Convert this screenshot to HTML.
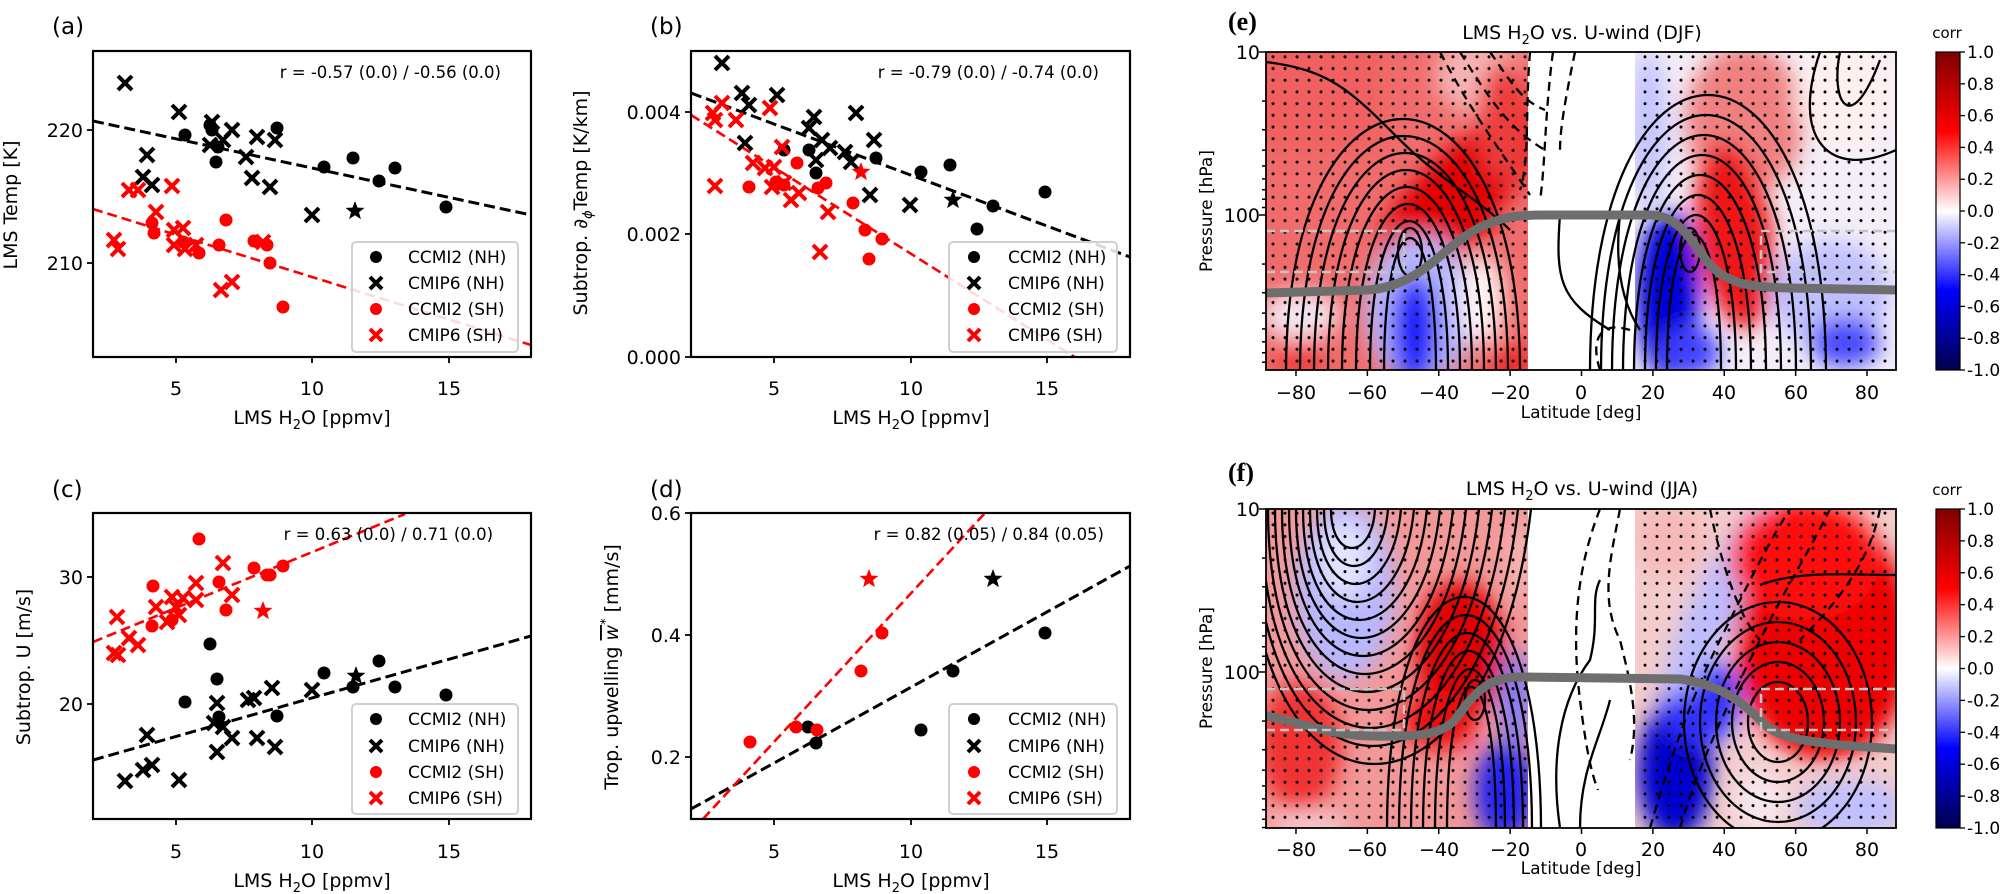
<!DOCTYPE html>
<html><head><meta charset="utf-8"><style>
html,body{margin:0;padding:0;background:#fff}
svg{display:block;font-family:"DejaVu Sans","Liberation Sans",sans-serif}
</style></head><body>
<svg id="s" width="2000" height="894" viewBox="0 0 2000 894" xmlns="http://www.w3.org/2000/svg">
<defs>
<filter id="bl" x="-50%" y="-50%" width="200%" height="200%"><feGaussianBlur stdDeviation="11"/></filter>
<pattern id="dots" x="1267" y="4" width="12" height="11.7" patternUnits="userSpaceOnUse"><circle cx="6" cy="6" r="1.5" fill="#000"/></pattern>
<clipPath id="ca"><rect x="93" y="51" width="438" height="306"/></clipPath>
<clipPath id="cb"><rect x="691" y="51" width="439" height="306"/></clipPath>
<clipPath id="cc"><rect x="93" y="513" width="438" height="306"/></clipPath>
<clipPath id="cd"><rect x="691" y="513" width="439" height="306"/></clipPath>
<clipPath id="ceL"><rect x="1266" y="52" width="262" height="318"/></clipPath>
<clipPath id="ceR"><rect x="1635" y="52" width="261" height="318"/></clipPath>
<clipPath id="cfL"><rect x="1266" y="509" width="262" height="319"/></clipPath>
<clipPath id="cfR"><rect x="1635" y="509" width="261" height="319"/></clipPath>
<clipPath id="ce"><rect x="1266" y="52" width="630" height="318"/></clipPath>
<clipPath id="cf"><rect x="1266" y="509" width="630" height="319"/></clipPath>
<linearGradient id="cbar" x1="0" y1="0" x2="0" y2="1">
<stop offset="0" stop-color="#800000"/><stop offset="0.25" stop-color="#ff0000"/><stop offset="0.5" stop-color="#ffffff"/><stop offset="0.75" stop-color="#0000ff"/><stop offset="1" stop-color="#00004d"/>
</linearGradient>
</defs>

<!-- ===== fields e ===== -->
<g clip-path="url(#ceL)"><rect x="1266" y="52" width="262" height="318" fill="#f06c6c"/>
<g filter="url(#bl)">
<rect x="1230" y="30" width="150" height="120" fill="#f06060"/>
<ellipse cx="1480" cy="75" rx="45" ry="40" fill="#f6b4b4"/>
<ellipse cx="1465" cy="185" rx="110" ry="38" transform="rotate(-42 1465 185)" fill="#e00000"/>
<ellipse cx="1445" cy="215" rx="50" ry="40" fill="#e40000"/>
<ellipse cx="1505" cy="120" rx="28" ry="60" fill="#ee3c3c"/>
<ellipse cx="1420" cy="310" rx="55" ry="75" fill="#b8b8ff"/>
<ellipse cx="1415" cy="330" rx="24" ry="55" fill="#1a1aff"/>
<ellipse cx="1482" cy="300" rx="22" ry="45" fill="#fff4f4"/>
<ellipse cx="1300" cy="315" rx="40" ry="25" fill="#f4e4ee"/>
<ellipse cx="1300" cy="358" rx="25" ry="15" fill="#f03030"/>
<ellipse cx="1510" cy="362" rx="22" ry="18" fill="#f02020"/>
</g></g>
<g clip-path="url(#ceR)"><rect x="1635" y="52" width="261" height="318" fill="#f4eef8"/>
<g filter="url(#bl)">
<ellipse cx="1648" cy="130" rx="20" ry="80" fill="#c4c4ff"/>
<ellipse cx="1745" cy="120" rx="60" ry="75" fill="#f08080"/>
<ellipse cx="1735" cy="235" rx="38" ry="95" transform="rotate(-8 1735 235)" fill="#ee1818"/>
<ellipse cx="1668" cy="295" rx="32" ry="85" fill="#0000dc"/>
<ellipse cx="1690" cy="352" rx="30" ry="25" fill="#4040ff"/>
<ellipse cx="1845" cy="95" rx="50" ry="55" fill="#fff0f0"/>
<ellipse cx="1830" cy="295" rx="60" ry="55" fill="#c0c0ff"/>
<ellipse cx="1845" cy="342" rx="35" ry="25" fill="#4a4aff"/>
</g></g>
<rect x="1266" y="52" width="262" height="318" fill="url(#dots)"/>
<rect x="1635" y="52" width="261" height="318" fill="url(#dots)"/>

<!-- ===== fields f ===== -->
<g clip-path="url(#cfL)"><rect x="1266" y="509" width="262" height="319" fill="#f29898"/>
<g filter="url(#bl)">
<ellipse cx="1345" cy="590" rx="50" ry="90" fill="#b8b8ff"/>
<ellipse cx="1345" cy="560" rx="25" ry="40" fill="#e4e4ff"/>
<ellipse cx="1460" cy="650" rx="45" ry="70" fill="#e00000"/>
<ellipse cx="1440" cy="720" rx="38" ry="30" fill="#ee1010"/>
<ellipse cx="1505" cy="792" rx="30" ry="50" fill="#2020f0"/>
<ellipse cx="1515" cy="700" rx="15" ry="50" fill="#7878ff"/>
<ellipse cx="1300" cy="745" rx="42" ry="65" fill="#f03030"/>
<ellipse cx="1310" cy="826" rx="40" ry="12" fill="#f8d0d8"/>
<ellipse cx="1520" cy="560" rx="12" ry="40" fill="#f6b8b8"/>
</g></g>
<g clip-path="url(#cfR)"><rect x="1635" y="509" width="261" height="319" fill="#f4cccc"/>
<g filter="url(#bl)">
<ellipse cx="1675" cy="772" rx="38" ry="68" fill="#0000cc"/>
<ellipse cx="1700" cy="700" rx="40" ry="45" fill="#3030ff"/>
<ellipse cx="1720" cy="600" rx="25" ry="110" transform="rotate(28 1720 600)" fill="#bcbcff"/>
<ellipse cx="1825" cy="640" rx="90" ry="120" fill="#ee0000"/>
<ellipse cx="1805" cy="560" rx="75" ry="60" fill="#ff1010"/>
<ellipse cx="1670" cy="540" rx="35" ry="35" fill="#f6b8b8"/>
<ellipse cx="1850" cy="808" rx="55" ry="28" fill="#c0c0ff"/>
<ellipse cx="1760" cy="802" rx="25" ry="30" fill="#f8e8f0"/>
</g></g>
<rect x="1266" y="509" width="262" height="319" fill="url(#dots)"/>
<rect x="1635" y="509" width="261" height="319" fill="url(#dots)"/>

<g id="contours" fill="none" stroke="#000" stroke-width="2.3"></g>

<!-- tropopause + boxes -->
<g fill="none" stroke="#6e6e6e" stroke-width="9">
<path d="M1266,293 L1368,290 C1420,286 1440,250 1475,230 C1500,216 1520,215 1545,215 L1650,215 C1680,216 1690,240 1710,265 C1730,285 1752,287 1790,288 L1896,290"/>
<path d="M1266,716 C1300,722 1330,735 1370,736 C1420,737 1440,735 1455,720 C1475,692 1488,677 1520,677 L1680,679 C1720,685 1740,700 1760,720 C1776,738 1800,740 1840,745 L1896,749"/>
</g>
<g fill="none" stroke="#c4c4c4" stroke-width="2.5" stroke-dasharray="9 5">
<path d="M1266,231 L1404,231 L1404,272 L1266,272"/>
<path d="M1896,231 L1761,231 L1761,272 L1896,272"/>
<path d="M1266,689 L1404,689 L1404,730 L1266,730"/>
<path d="M1896,689 L1761,689 L1761,730 L1896,730"/>
</g>

<rect x="1266" y="52" width="630" height="318" fill="none" stroke="#000" stroke-width="1.8"/>
<rect x="1266" y="509" width="630" height="319" fill="none" stroke="#000" stroke-width="1.8"/>
<g id="mapticks" stroke="#000" stroke-width="1.5"></g>
<g font-size="19" text-anchor="middle">
<text x="1296" y="399">−80</text><text x="1367" y="399">−60</text><text x="1439" y="399">−40</text><text x="1510" y="399">−20</text><text x="1581" y="399">0</text><text x="1653" y="399">20</text><text x="1724" y="399">40</text><text x="1796" y="399">60</text><text x="1867" y="399">80</text>
<text x="1296" y="856">−80</text><text x="1367" y="856">−60</text><text x="1439" y="856">−40</text><text x="1510" y="856">−20</text><text x="1581" y="856">0</text><text x="1653" y="856">20</text><text x="1724" y="856">40</text><text x="1796" y="856">60</text><text x="1867" y="856">80</text>
</g>
<g font-size="17" text-anchor="middle">
<text x="1581" y="418">Latitude [deg]</text>
<text x="1581" y="874">Latitude [deg]</text>
</g>
<g font-size="19" text-anchor="end">
<text x="1260" y="59">10</text><text x="1260" y="222">100</text>
<text x="1260" y="516">10</text><text x="1260" y="679">100</text>
</g>
<text font-size="17" text-anchor="middle" transform="translate(1212,211) rotate(-90)">Pressure [hPa]</text>
<text font-size="17" text-anchor="middle" transform="translate(1212,668) rotate(-90)">Pressure [hPa]</text>
<g font-size="19" text-anchor="middle">
<text x="1582" y="39">LMS H<tspan font-size="13" dy="5">2</tspan><tspan dy="-5">O vs. U-wind (DJF)</tspan></text>
<text x="1582" y="495">LMS H<tspan font-size="13" dy="5">2</tspan><tspan dy="-5">O vs. U-wind (JJA)</tspan></text>
</g>
<g font-family="'Liberation Serif',serif" font-weight="bold" font-size="26">
<text x="1228" y="30">(e)</text><text x="1228" y="481">(f)</text>
</g>
<rect x="1936" y="52" width="24" height="318" fill="url(#cbar)" stroke="#000" stroke-width="1.2"/>
<rect x="1936" y="509" width="24" height="319" fill="url(#cbar)" stroke="#000" stroke-width="1.2"/>
<g font-size="15" text-anchor="middle"><text x="1947" y="38">corr</text><text x="1947" y="495">corr</text></g>
<g id="cbt" font-size="17"></g>

<g id="scat"></g>

<g fill="none" stroke="#000" stroke-width="2.2">
<rect x="93" y="51" width="438" height="306"/>
<rect x="691" y="51" width="439" height="306"/>
<rect x="93" y="513" width="438" height="306"/>
<rect x="691" y="513" width="439" height="306"/>
</g>
<g stroke="#000" stroke-width="1.8">
<line x1="176" y1="357" x2="176" y2="363"/><line x1="312" y1="357" x2="312" y2="363"/><line x1="449" y1="357" x2="449" y2="363"/>
<line x1="774" y1="357" x2="774" y2="363"/><line x1="911" y1="357" x2="911" y2="363"/><line x1="1047" y1="357" x2="1047" y2="363"/>
<line x1="176" y1="819" x2="176" y2="825"/><line x1="312" y1="819" x2="312" y2="825"/><line x1="449" y1="819" x2="449" y2="825"/>
<line x1="774" y1="819" x2="774" y2="825"/><line x1="911" y1="819" x2="911" y2="825"/><line x1="1047" y1="819" x2="1047" y2="825"/>
<line x1="87" y1="130" x2="93" y2="130"/><line x1="87" y1="263" x2="93" y2="263"/>
<line x1="685" y1="112" x2="691" y2="112"/><line x1="685" y1="234" x2="691" y2="234"/><line x1="685" y1="357" x2="691" y2="357"/>
<line x1="87" y1="577" x2="93" y2="577"/><line x1="87" y1="704" x2="93" y2="704"/>
<line x1="685" y1="513" x2="691" y2="513"/><line x1="685" y1="635" x2="691" y2="635"/><line x1="685" y1="757" x2="691" y2="757"/>
</g>
<g font-size="19" text-anchor="middle">
<text x="176" y="395">5</text><text x="312" y="395">10</text><text x="449" y="395">15</text>
<text x="774" y="395">5</text><text x="911" y="395">10</text><text x="1047" y="395">15</text>
<text x="176" y="858">5</text><text x="312" y="858">10</text><text x="449" y="858">15</text>
<text x="774" y="858">5</text><text x="911" y="858">10</text><text x="1047" y="858">15</text>
</g>
<g font-size="19" text-anchor="end">
<text x="83" y="137">220</text><text x="83" y="270">210</text>
<text x="681" y="119">0.004</text><text x="681" y="241">0.002</text><text x="681" y="364">0.000</text>
<text x="83" y="584">30</text><text x="83" y="711">20</text>
<text x="681" y="520">0.6</text><text x="681" y="642">0.4</text><text x="681" y="764">0.2</text>
</g>
<g font-size="19" text-anchor="middle">
<text x="312" y="424">LMS H<tspan font-size="13" dy="5">2</tspan><tspan dy="-5">O [ppmv]</tspan></text>
<text x="911" y="424">LMS H<tspan font-size="13" dy="5">2</tspan><tspan dy="-5">O [ppmv]</tspan></text>
<text x="312" y="887">LMS H<tspan font-size="13" dy="5">2</tspan><tspan dy="-5">O [ppmv]</tspan></text>
<text x="911" y="887">LMS H<tspan font-size="13" dy="5">2</tspan><tspan dy="-5">O [ppmv]</tspan></text>
<text transform="translate(17,205) rotate(-90)">LMS Temp [K]</text>
<text transform="translate(587,203) rotate(-90)">Subtrop. ∂<tspan font-size="13" dy="5" font-style="italic">ϕ</tspan><tspan dy="-5">Temp [K/km]</tspan></text>
<text transform="translate(30,667) rotate(-90)">Subtrop. U [m/s]</text>
<text transform="translate(618,667) rotate(-90)">Trop. upwelling <tspan font-style="italic" text-decoration="overline">w</tspan><tspan font-size="13" dy="-8">*</tspan><tspan dy="8"> [mm/s]</tspan></text>
</g>
<g font-size="23">
<text x="52" y="34">(a)</text><text x="650" y="34">(b)</text>
<text x="52" y="497">(c)</text><text x="650" y="497">(d)</text>
</g>
<g font-size="16.5" text-anchor="end">
<text x="501" y="78">r = -0.57 (0.0) / -0.56 (0.0)</text>
<text x="1099" y="78">r = -0.79 (0.0) / -0.74 (0.0)</text>
<text x="493" y="540">r = 0.63 (0.0) / 0.71 (0.0)</text>
<text x="1104" y="540">r = 0.82 (0.05) / 0.84 (0.05)</text>
</g>
<g id="legs"></g>
</svg>
<script>
var NS="http://www.w3.org/2000/svg";
function el(p,t,a){var e=document.createElementNS(NS,t);for(var k in a)e.setAttribute(k,a[k]);p.appendChild(e);return e;}
var S=document.getElementById('scat');
function circ(g,x,y,c,r){el(g,'circle',{cx:x,cy:y,r:r||6.5,fill:c});}
function cross(g,x,y,c,s){s=s||7;el(g,'path',{d:'M'+(x-s)+','+(y-s)+'L'+(x+s)+','+(y+s)+'M'+(x-s)+','+(y+s)+'L'+(x+s)+','+(y-s),stroke:c,'stroke-width':4,fill:'none'});}
function star(g,x,y,c){var R=10,r=4.2,d='';for(var i=0;i<10;i++){var a=-Math.PI/2+i*Math.PI/5,rr=i%2?r:R;d+=(i?'L':'M')+(x+rr*Math.cos(a)).toFixed(1)+','+(y+rr*Math.sin(a)).toFixed(1);}el(g,'path',{d:d+'Z',fill:c});}
function line(g,x1,y1,x2,y2,c,w,da){el(g,'line',{x1:x1,y1:y1,x2:x2,y2:y2,stroke:c,'stroke-width':w,'stroke-dasharray':da});}
function panel(clip,d){var g=el(S,'g',{'clip-path':'url(#'+clip+')'});
 d.lines.forEach(function(l){line(g,l[0],l[1],l[2],l[3],l[4],l[4]=='red'?2.6:3,l[4]=='red'?'10 5':'11 5');});
 d.bc.forEach(function(p){circ(g,p[0],p[1],'#000');});
 d.bx.forEach(function(p){cross(g,p[0],p[1],'#000');});
 d.rc.forEach(function(p){circ(g,p[0],p[1],'#f00');});
 d.rx.forEach(function(p){cross(g,p[0],p[1],'#f00');});
 if(d.bs)star(g,d.bs[0],d.bs[1],'#000');if(d.rs)star(g,d.rs[0],d.rs[1],'#f00');}
panel('ca',{lines:[[93,121,531,215,'#000'],[93,209,531,345,'red']],
bc:[[185,135],[210,125],[216,162],[218,147],[277,128],[324,167],[353,158],[379,181],[395,168],[446,207],[212,130]],
bx:[[125,83],[179,112],[147,155],[143,177],[152,185],[212,122],[232,130],[210,145],[223,140],[246,157],[257,137],[252,178],[275,140],[270,187],[312,215]],
rc:[[152,223],[154,233],[226,220],[219,245],[254,241],[267,245],[270,263],[283,307],[199,253],[183,242]],
rx:[[114,240],[118,249],[129,190],[138,190],[172,186],[156,212],[174,230],[183,228],[174,245],[185,249],[196,245],[221,290],[232,282],[263,242]],bs:[355,211]});
panel('cb',{lines:[[691,93,1130,257,'#000'],[691,115,1130,392,'red']],
bc:[[784,150],[809,150],[816,173],[876,158],[921,172],[950,165],[977,229],[993,206],[1045,192]],
bx:[[722,63],[742,93],[749,105],[777,95],[745,143],[814,117],[809,128],[822,140],[830,148],[845,152],[851,162],[856,113],[874,140],[870,195],[910,205],[816,160]],
rc:[[749,187],[797,163],[818,188],[826,183],[853,203],[865,230],[882,239],[869,259],[776,182],[784,185]],
rx:[[713,113],[722,103],[715,120],[736,120],[770,108],[715,186],[753,163],[765,168],[774,167],[772,187],[784,183],[791,200],[799,193],[782,147],[828,212],[820,252]],bs:[953,200],rs:[861,172]});
panel('cc',{lines:[[93,760,531,636,'#000'],[93,642,405,514,'red']],
bc:[[210,644],[217,679],[185,702],[277,716],[324,673],[353,687],[379,661],[395,687],[446,695],[219,717]],
bx:[[125,781],[179,780],[143,770],[152,765],[147,735],[217,752],[217,703],[214,723],[223,727],[232,738],[248,700],[254,698],[257,738],[272,688],[275,747],[312,690]],
rc:[[199,539],[153,586],[219,582],[226,610],[254,568],[267,575],[270,575],[283,566],[152,626],[172,620]],
rx:[[117,617],[114,653],[118,655],[129,638],[138,645],[156,607],[172,597],[176,607],[183,598],[179,615],[196,583],[196,600],[223,563],[232,595],[167,622]],bs:[356,676],rs:[263,611]});
panel('cd',{lines:[[691,809,1130,566,'#000'],[703,819,985,513,'red']],
bc:[[808,727],[816,743],[921,730],[953,671],[1045,633]],bx:[],
rc:[[750,742],[796,727],[817,730],[861,671],[882,633]],rx:[],bs:[993,579],rs:[869,579]});
var L=document.getElementById('legs');
function legend(x,y,w,h,mx,tx,ys){el(L,'rect',{x:x,y:y,width:w,height:h,rx:4,fill:'#fff','fill-opacity':0.85,stroke:'#d0d0d0','stroke-width':2});
 var labs=['CCMI2 (NH)','CMIP6 (NH)','CCMI2 (SH)','CMIP6 (SH)'];
 circ(L,mx,ys[0],'#000',6);cross(L,mx,ys[1],'#000',6);circ(L,mx,ys[2],'#f00',6);cross(L,mx,ys[3],'#f00',6);
 for(var i=0;i<4;i++){var t=el(L,'text',{x:tx,y:ys[i]+6,'font-size':17});t.textContent=labs[i];}}
legend(352,242,166,110,376,408,[257,283,309,335]);
legend(949,242,168,110,974,1008,[257,283,309,335]);
legend(352,704,166,110,376,408,[719,746,772,798]);
legend(949,704,168,110,974,1008,[719,746,772,798]);
var MT=document.getElementById('mapticks');
[52,509].forEach(function(top){var bot=top===52?370:828;
 for(var lat=-80;lat<=80;lat+=20){var x=1581.5+3.569*lat;el(MT,'line',{x1:x,y1:bot,x2:x,y2:bot+6});}
 [10,100].forEach(function(p){var y=top+163*Math.log10(p/10);el(MT,'line',{x1:1259,y1:y,x2:1266,y2:y});});
 [20,30,40,50,60,70,80,90,200,300,400,500,600,700,800,900].forEach(function(p){var y=top+163*Math.log10(p/10);if(y<=bot)el(MT,'line',{x1:1262,y1:y,x2:1266,y2:y});});
});
var CB=document.getElementById('cbt');
[[52,370],[509,828]].forEach(function(r){for(var i=0;i<=10;i++){var y=r[0]+(r[1]-r[0])*i/10;var v=(1-i*0.2).toFixed(1);if(v=='-0.0')v='0.0';
 el(CB,'line',{x1:1960,y1:y,x2:1965,y2:y,stroke:'#000','stroke-width':1.3});var t=el(CB,'text',{x:1967,y:y+6});t.textContent=v;}});
var C=document.getElementById('contours');
var gE=el(C,'g',{'clip-path':'url(#ce)'}),gF=el(C,'g',{'clip-path':'url(#cf)'});
function P(g,d,dash){var a={d:d};if(dash)a['stroke-dasharray']='9 6';el(g,'path',a);}
function arch(g,cx,a,b,peak,bot){var c=(peak-0.25*bot)/0.75;P(g,'M'+(cx-a)+','+bot+' C'+(cx-a)+','+c+' '+(cx+b)+','+c+' '+(cx+b)+','+bot);}
for(var k=1;k<=8;k++)arch(gE,1412,14+14*k,12+12*k,255-17*k,372);
el(gE,'ellipse',{cx:1410,cy:252,rx:12,ry:24});
el(gE,'path',{d:'M1266,62 C1330,70 1350,90 1400,140 C1440,180 1480,200 1510,230'});
for(var k=1;k<=8;k++)arch(gE,1690,12+11*k,16+15*k,255-20*k,372);
el(gE,'ellipse',{cx:1690,cy:250,rx:10,ry:22});
P(gE,'M1840,52 C1830,100 1850,140 1880,60');
P(gE,'M1820,52 C1790,140 1830,180 1896,150');
P(gE,'M1440,52 C1470,110 1500,150 1530,195',1);P(gE,'M1460,52 C1490,100 1510,130 1545,150',1);
P(gE,'M1490,52 C1510,80 1520,100 1545,110',1);P(gE,'M1530,52 C1525,110 1530,160 1520,190',1);
P(gE,'M1553,52 C1545,110 1545,170 1540,200',1);P(gE,'M1575,52 C1565,100 1560,130 1560,150',1);
P(gE,'M1600,370 C1590,340 1600,320 1630,330',1);
P(gE,'M1560,215 C1555,280 1560,300 1610,330');P(gE,'M1620,215 C1615,260 1620,300 1640,330');
for(var k=1;k<=13;k++){var a=10+7*k,b=14+10*k,bt=530+18*k;var c=(bt-0.25*509)/0.75;P(gF,'M'+(1348-a)+',509 C'+(1348-a)+','+c+' '+(1348+b)+','+c+' '+(1348+b+k*3)+',509');}
for(var k=1;k<=6;k++)arch(gF,1475,16+12*k,12+9*k,705-18*k,830);
el(gF,'ellipse',{cx:1475,cy:700,rx:10,ry:20});
P(gF,'M1560,828 C1550,760 1560,700 1590,660 C1600,620 1590,600 1600,580');
P(gF,'M1580,828 C1580,770 1600,740 1610,700');
for(var k=1;k<=5;k++)el(gF,'ellipse',{cx:1778,cy:722,rx:14+16*k,ry:20+20*k});
P(gF,'M1760,585 C1800,570 1850,575 1896,575');
P(gF,'M1680,828 C1700,760 1730,700 1760,640 C1790,580 1810,550 1830,509',1);
P(gF,'M1650,828 C1670,760 1690,700 1720,640 C1750,580 1770,540 1790,509',1);
P(gF,'M1710,509 C1720,560 1740,620 1760,640',1);
P(gF,'M1880,509 C1870,560 1840,600 1800,640',1);
P(gF,'M1620,509 C1610,560 1600,600 1620,640 C1630,680 1640,720 1630,760',1);
P(gF,'M1600,509 C1580,560 1570,620 1580,700 C1585,740 1590,770 1598,790',1);
</script>
</body></html>
